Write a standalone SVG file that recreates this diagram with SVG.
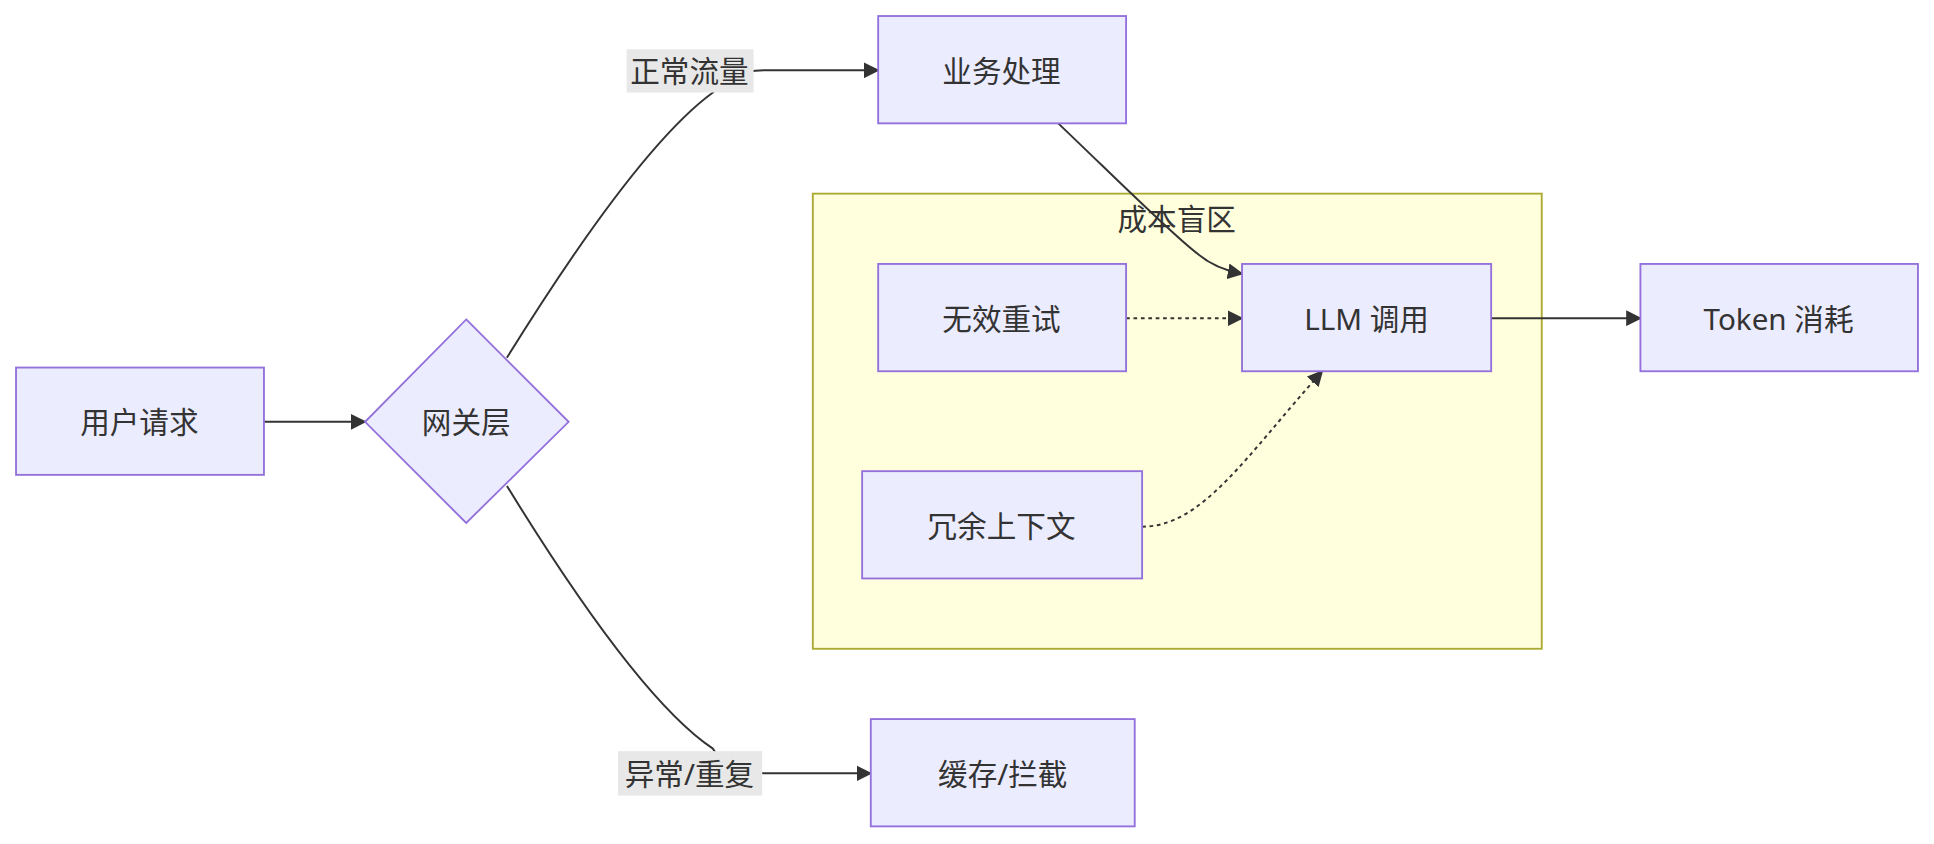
<svg xmlns="http://www.w3.org/2000/svg" width="1934" height="844" viewBox="0 0 1934 844">
<style>
.n{fill:#ececff;stroke:#9370db;stroke-width:1.5}
.t{font-family:"Noto Sans","Noto Sans CJK SC",sans-serif;font-size:24px;fill:#333;text-anchor:middle;dominant-baseline:central}
.e{fill:none;stroke:#333;stroke-width:1.6}
.d{stroke-dasharray:3 3}
.lb{fill:#e8e8e8}
</style>
<defs><marker id="a" viewBox="0 0 10 10" refX="9" refY="5" markerWidth="8" markerHeight="8" orient="auto"><path d="M0,0L10,5L0,10z" fill="#333"/></marker></defs>
<rect width="1934" height="844" fill="#fff"/>
<g transform="scale(1.2334)">
<g id="cluster"><rect x="659" y="157" width="591" height="369" fill="#ffffde" stroke="#aaaa33" stroke-width="1.5"/><text class="t" x="954" y="177">成本盲区</text></g>
<g id="edges">
<path class="e" d="M214,342H296" marker-end="url(#a)"/>
<path class="e" d="M411,290C470,195 530,110 578,75 Q590,57 620,57H712" marker-end="url(#a)"/>
<path class="e" d="M411,394C470,490 530,575 578,607 Q590,627 620,627H706" marker-end="url(#a)"/>
<path class="e" d="M858,100C900,140 950,190 970,205 Q985,218 1007,222" marker-end="url(#a)"/>
<path class="e d" d="M913,258H1007" marker-end="url(#a)"/>
<path class="e d" d="M926,427C975,427 1010,370 1072,301" marker-end="url(#a)"/>
<path class="e" d="M1209,258H1330" marker-end="url(#a)"/>
<rect class="lb" x="508" y="40" width="103" height="35"/><text class="t" x="559" y="57">正常流量</text>
<rect class="lb" x="501" y="609" width="117" height="36"/><text class="t" x="559" y="627">异常/重复</text>
</g>
<g id="n1"><rect class="n" x="13" y="298" width="201" height="87"/><text class="t" x="113" y="342">用户请求</text></g>
<g id="n2"><polygon class="n" points="378,259 461,342 378,424 296,342"/><text class="t" x="378" y="342">网关层</text></g>
<g id="n3"><rect class="n" x="712" y="13" width="201" height="87"/><text class="t" x="812" y="57">业务处理</text></g>
<g id="n4"><rect class="n" x="706" y="583" width="214" height="87"/><text class="t" x="813" y="627">缓存/拦截</text></g>
<g id="n5"><rect class="n" x="712" y="214" width="201" height="87"/><text class="t" x="812" y="258">无效重试</text></g>
<g id="n6"><rect class="n" x="1007" y="214" width="202" height="87"/><text class="t" x="1108" y="258">LLM 调用</text></g>
<g id="n7"><rect class="n" x="699" y="382" width="227" height="87"/><text class="t" x="812" y="426">冗余上下文</text></g>
<g id="n8"><rect class="n" x="1330" y="214" width="225" height="87"/><text class="t" x="1442" y="258">Token 消耗</text></g>
</g>
</svg>
